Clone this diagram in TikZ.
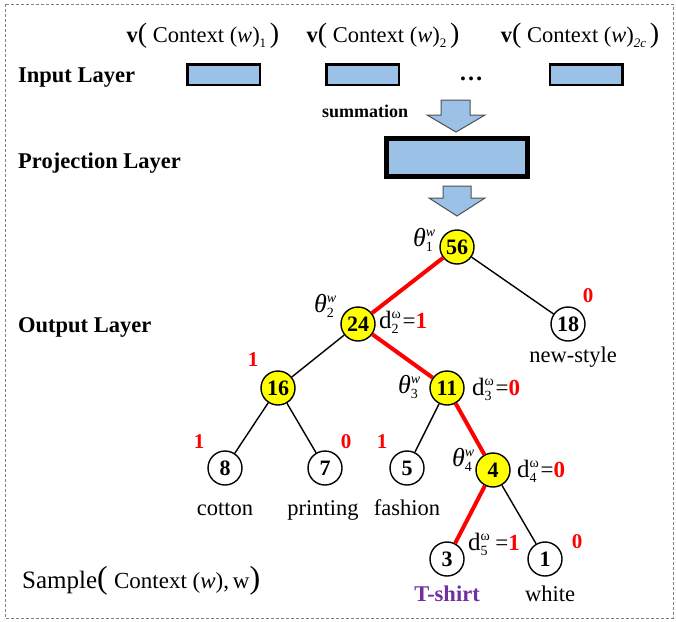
\documentclass[tikz,border=0pt]{standalone}
\usepackage{fontspec}
\setmainfont{Liberation Serif}
\definecolor{boxblue}{RGB}{155,194,230}
\definecolor{tpurple}{RGB}{112,48,160}
\definecolor{nodeyellow}{RGB}{255,255,0}
\definecolor{arrowedge}{RGB}{80,80,80}
\newcommand{\fs}[1]{\fontsize{#1}{#1}\selectfont}
\newcommand{\supsubx}[2]{{\fs{14}\makebox[0pt][l]{\raisebox{10pt}{#1}}\raisebox{-5pt}{#2}}}
\newcommand{\thetalab}[1]{{\fs{26}\textit{θ}}\supsubx{\textit{w}}{#1}}
\newcommand{\dlab}[3]{{\fs{25}d}\supsubx{ω}{#1}#3\,=\textcolor{red}{\textbf{#2}}}
\newcommand{\ctxlab}[1]{\textbf{v}{\fs{28}(}\ Context (\textit{w})\raisebox{-5pt}{\fs{13}#1}\,{\fs{28})}}
\begin{document}
\begin{tikzpicture}[x=1pt,y=-1pt,
  inbox/.style={draw=black, fill=boxblue, line width=2.5pt, minimum width=72.5pt, minimum height=20.5pt, inner sep=0pt},
  projbox/.style={draw=black, fill=boxblue, line width=5pt, minimum width=141pt, minimum height=38pt, inner sep=0pt},
  layerlab/.style={anchor=base west, inner sep=0pt, font=\fs{22.5}\bfseries},
  ctx/.style={anchor=base, inner sep=0pt, font=\fs{22.5}},
  tnode/.style={circle, draw=black, line width=1.4pt, minimum size=34pt, inner sep=0pt, font=\fs{22}\bfseries},
  innernode/.style={tnode, fill=nodeyellow},
  leafnode/.style={tnode, fill=white},
  bedge/.style={draw=black, line width=1.4pt},
  redge/.style={draw=red, line width=4pt},
  bit/.style={inner sep=0pt, text=red, font=\fs{21}\bfseries},
  word/.style={anchor=base, inner sep=0pt, font=\fs{22.5}},
  thlab/.style={anchor=east, inner sep=0pt, font=\fs{22}},
  dl/.style={anchor=west, inner sep=0pt, font=\fs{23}},
  blockarrow/.style={fill=boxblue, draw=arrowedge, line width=1pt, line join=miter}
]
\useasboundingbox (0,0) rectangle (676,621);
\draw[gray, line width=1pt, dash pattern=on 3pt off 2pt] (5,4) rectangle (673,618);

% top labels
\node[ctx] (c1) at (203,42) {\ctxlab{1}};
\node[ctx] (c2) at (383,42) {\ctxlab{2}};
\node[ctx] (c3) at (580,42) {\ctxlab{\textit{2c}}};

% layer labels
\node[layerlab] (linput) at (18,82) {Input Layer};
\node[layerlab] (lproj) at (18,168) {Projection Layer};
\node[layerlab] (lout) at (18,332) {Output Layer};

% input boxes
\node[inbox] (b1) at (223.5,74.5) {};
\node[inbox] (b2) at (362.5,74.5) {};
\node[inbox] (b3) at (586,74.5) {};
\node[inner sep=0pt, anchor=base, font=\fs{24}\bfseries] (dots) at (471,80) {…};

% summation
\node[anchor=base west, inner sep=0pt, font=\fs{18}\bfseries] (sum) at (322,117) {summation};
\draw[blockarrow] (441,100) -- (470,100) -- (470,115) -- (485,115) -- (456,132) -- (427,115) -- (441,115) -- cycle;

% projection box
\node[projbox] (proj) at (457,157.5) {};
\draw[blockarrow] (443,186) -- (471,186) -- (471,198) -- (485,198) -- (457,216) -- (429,198) -- (443,198) -- cycle;

% tree nodes
\node[innernode] (n56) at (457,247) {56};
\node[innernode] (n24) at (358,324) {24};
\node[leafnode]  (n18) at (568,324) {18};
\node[innernode] (n16) at (278,388) {16};
\node[innernode] (n11) at (447,388) {11};
\node[leafnode]  (n8)  at (225,468) {8};
\node[leafnode]  (n7)  at (325,468) {7};
\node[leafnode]  (n5)  at (407,468) {5};
\node[innernode] (n4)  at (493,470) {4};
\node[leafnode]  (n3)  at (447,559) {3};
\node[leafnode]  (n1)  at (545,559) {1};

% edges
\draw[bedge] (n56) -- (n18);
\draw[bedge] (n24) -- (n16);
\draw[bedge] (n16) -- (n8);
\draw[bedge] (n16) -- (n7);
\draw[bedge] (n11) -- (n5);
\draw[bedge] (n4) -- (n1);
\draw[redge] (n56) -- (n24);
\draw[redge] (n24) -- (n11);
\draw[redge] (n11) -- (n4);
\draw[redge] (n4) -- (n3);

% theta labels
\node[thlab] (t1) at (433,240) {\thetalab{1}};
\node[thlab] (t2) at (334,306) {\thetalab{2}};
\node[thlab] (t3) at (418,387) {\thetalab{3}};
\node[thlab] (t4) at (472,460) {\thetalab{4}};

% d labels
\node[dl] (d2) at (379,322) {\dlab{2}{1}{}};
\node[dl] (d3) at (472,389) {\dlab{3}{0}{}};
\node[dl] (d4) at (517,471) {\dlab{4}{0}{}};
\node[dl] (d5) at (468,544) {\dlab{5}{1}{\,}};

% red bits
\node[bit] (r18) at (588,296) {0};
\node[bit] (r16) at (253,360) {1};
\node[bit] (r8)  at (199,442) {1};
\node[bit] (r7)  at (346,442) {0};
\node[bit] (r5)  at (382,442) {1};
\node[bit] (r1)  at (577,542) {0};

% word labels
\node[word] (w18) at (573,362) {new-style};
\node[word] (w8)  at (225,515) {cotton};
\node[word] (w7)  at (323,515) {printing};
\node[word] (w5)  at (407,515) {fashion};
\node[word, font=\fs{22.5}\bfseries, text=tpurple] (w3) at (447,601) {T-shirt};
\node[word] (w1)  at (550,601) {white};

% sample
\node[anchor=base west, inner sep=0pt, font=\fs{25}] (sample) at (22,588) {Sample{\fs{32}(}\ {\fs{23}Context (\textit{w}),\,w}{\fs{32})}};
\end{tikzpicture}
\end{document}
